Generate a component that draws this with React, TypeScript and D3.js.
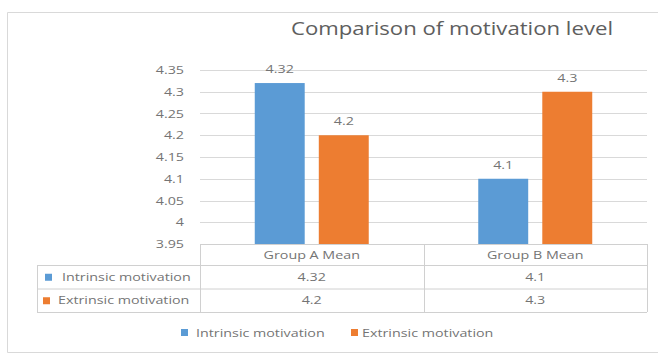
import React from "react";
import * as d3 from "d3";

const categories = ["Group A Mean", "Group B Mean"];
const seriesNames = ["Intrinsic motivation", "Extrinsic motivation"];
const intrinsicValues = [4.32, 4.1];
const extrinsicValues = [4.2, 4.3];
const intrinsicLabels = ["4.32", "4.1"];
const extrinsicLabels = ["4.2", "4.3"];
const yTicks = [3.95, 4, 4.05, 4.1, 4.15, 4.2, 4.25, 4.3, 4.35];
const yTickLabels = ["3.95", "4", "4.05", "4.1", "4.15", "4.2", "4.25", "4.3", "4.35"];
const title = "Comparison of motivation level";

const colors = ["#5B9BD5", "#ED7D31"];
const textColor = "#747474";
const font = "'Open Sans', 'Noto Sans', sans-serif";
const SX = 1.3;

function T({ x, y, anchor = "start", children }: { x: number; y: number; anchor?: string; children: React.ReactNode }) {
  return (
    <g transform={`translate(${x},${y}) scale(${SX},1)`}>
      <text x={0} y={0} textAnchor={anchor as any} fontFamily={font} fontSize={11} fill={textColor}>
        {children}
      </text>
    </g>
  );
}

export default function App() {
  const W = 658, H = 354;
  const plotL = 200, plotR = 647, plotT = 70, plotB = 244;
  const y = d3.scaleLinear().domain([3.95, 4.35]).range([plotB, plotT]);
  const x0 = d3.scaleBand<string>().domain(categories).range([plotL, plotR]).padding(0);
  const bw = x0.bandwidth();
  const x1 = d3.scaleBand<string>().domain(seriesNames).range([bw * 0.245, bw * 0.755]).paddingInner(0.22).paddingOuter(0);
  const series = [
    { name: seriesNames[0], values: intrinsicValues, labels: intrinsicLabels, color: colors[0] },
    { name: seriesNames[1], values: extrinsicValues, labels: extrinsicLabels, color: colors[1] },
  ];
  const tableL = 37;
  const headerB = 265;
  const rowH = 23.5;

  return (
    <svg width={W} height={H} style={{ position: "absolute", left: 0, top: 0, display: "block" }}>
      <rect x={0} y={0} width={W} height={H} fill="#fff" />
      <path d={`M${W + 5},12.5 H7.5 V352.5 H${W + 5}`} fill="none" stroke="#D9D9D9" strokeWidth={1} />
      <text x={452} y={35} textAnchor="middle" fontFamily={font} fontSize={18} fill="#5E5E5E" textLength={322} lengthAdjust="spacingAndGlyphs">
        {title}
      </text>
      {yTicks.map((t, i) => (
        <g key={i}>
          <line x1={plotL} x2={plotR} y1={Math.round(y(t)) + 0.5} y2={Math.round(y(t)) + 0.5} stroke="#D9D9D9" strokeWidth={1} />
          <T x={184} y={y(t) + 4} anchor="end">{yTickLabels[i]}</T>
        </g>
      ))}
      {series.map((s) => (
        <g key={s.name}>
          {categories.map((c, i) => {
            const bx = (x0(c) as number) + (x1(s.name) as number);
            const by = y(s.values[i]);
            return (
              <g key={c}>
                <rect x={bx} y={by} width={x1.bandwidth()} height={plotB - by} fill={s.color} />
                <T x={bx + x1.bandwidth() / 2} y={by - 10} anchor="middle">{s.labels[i]}</T>
              </g>
            );
          })}
        </g>
      ))}
      <g stroke="#D0D0D0" strokeWidth={1} fill="none">
        <line x1={plotL} x2={plotR} y1={plotB + 0.5} y2={plotB + 0.5} />
        <line x1={tableL} x2={plotR} y1={headerB + 0.5} y2={headerB + 0.5} />
        <line x1={tableL} x2={plotR} y1={headerB + rowH + 0.5} y2={headerB + rowH + 0.5} />
        <line x1={tableL} x2={plotR} y1={headerB + 2 * rowH + 0.5} y2={headerB + 2 * rowH + 0.5} />
        <line x1={tableL + 0.5} x2={tableL + 0.5} y1={headerB} y2={headerB + 2 * rowH} />
        {[plotL, x0(categories[1]) as number, plotR].map((v, i) => (
          <line key={i} x1={Math.round(v) + 0.5} x2={Math.round(v) + 0.5} y1={plotB} y2={headerB + 2 * rowH} />
        ))}
      </g>
      {categories.map((c) => (
        <T key={c} x={(x0(c) as number) + bw / 2} y={plotB + 15} anchor="middle">{c}</T>
      ))}
      {series.map((s, r) => {
        const cy = headerB + rowH * r + rowH / 2;
        return (
          <g key={s.name}>
            <rect x={r === 0 ? 45 : 43} y={cy - 3} width={7} height={7} fill={s.color} />
            <T x={r === 0 ? 62 : 58} y={cy + 4}>{s.name}</T>
            {categories.map((c, i) => (
              <T key={c} x={(x0(c) as number) + bw / 2} y={cy + 4} anchor="middle">{s.labels[i]}</T>
            ))}
          </g>
        );
      })}
      {series.map((s, i) => {
        const lx = i === 0 ? 181 : 351;
        return (
          <g key={s.name}>
            <rect x={lx} y={329} width={7} height={7} fill={s.color} />
            <T x={lx + (i === 0 ? 15 : 11)} y={337}>{s.name}</T>
          </g>
        );
      })}
    </svg>
  );
}
